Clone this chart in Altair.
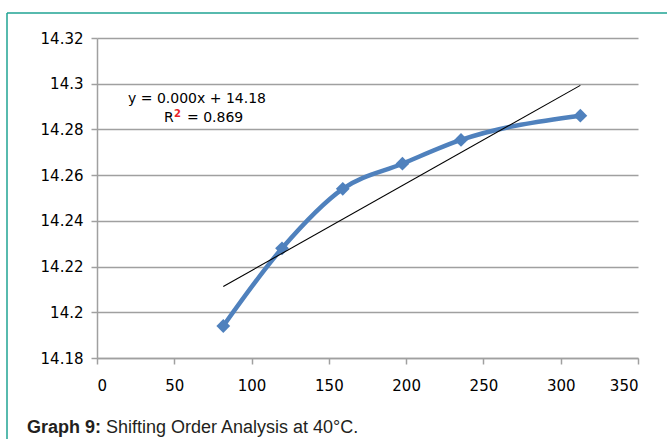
import altair as alt
import pandas as pd

# Data
x_vals = [81.7, 119.7, 159.0, 197.6, 235.5, 312.7]
y_vals = [14.194, 14.228, 14.254, 14.265, 14.2754, 14.286]
x_ticks = [0, 50, 100, 150, 200, 250, 300, 350]
y_ticks = [14.18, 14.20, 14.22, 14.24, 14.26, 14.28, 14.30, 14.32]
eq_line = "y = 0.000x + 14.18"
r2_label = ["R", "2", "= 0.869"]
caption_bold = "Graph 9:"
caption_rest = "Shifting Order Analysis at 40°C."

df = pd.DataFrame({"x": x_vals, "y": y_vals})

BLUE = "#4F81BD"
GRID = "#A0A0A0"
TEAL = "#1FA393"
FONT = "DejaVu Sans"

xs = alt.Scale(domain=[0, 350], nice=False, zero=False)
ys = alt.Scale(domain=[14.18, 14.32], nice=False, zero=False)

x_enc = alt.X("x:Q", scale=xs, axis=alt.Axis(values=x_ticks, title=None, grid=False,
                                             tickSize=6, labelPadding=14, domainColor=GRID,
                                             tickColor=GRID, domainWidth=1.5, tickWidth=1.5))
y_enc = alt.Y("y:Q", scale=ys, axis=alt.Axis(values=y_ticks, title=None, grid=True,
                                             format=".2~f", gridColor=GRID, gridWidth=1.5,
                                             tickSize=6, labelPadding=8, domainColor=GRID,
                                             tickColor=GRID, domainWidth=1.5, tickWidth=1.5))

base = alt.Chart(df)

curve = base.mark_line(interpolate="monotone", color=BLUE, strokeWidth=4.5).encode(x=x_enc, y=y_enc)
points = base.mark_point(shape="diamond", filled=True, size=190, color=BLUE, opacity=1).encode(x="x:Q", y="y:Q")
trend = base.transform_regression("x", "y").mark_line(color="black", strokeWidth=1.1).encode(x="x:Q", y="y:Q")

one = pd.DataFrame({"a": [0]})

eq = alt.Chart(one).mark_text(align="left", baseline="middle", font=FONT, fontSize=14, color="black").encode(
    text=alt.value(eq_line), x=alt.value(31), y=alt.value(61))
r_txt = alt.Chart(one).mark_text(align="left", baseline="middle", font=FONT, fontSize=14, color="black").encode(
    text=alt.value(r2_label[0]), x=alt.value(67), y=alt.value(80))
r_sup = alt.Chart(one).mark_text(align="left", baseline="middle", font=FONT, fontSize=10, fontWeight="bold",
                                 color="#E8242A").encode(
    text=alt.value(r2_label[1]), x=alt.value(77), y=alt.value(76))
r_val = alt.Chart(one).mark_text(align="left", baseline="middle", font=FONT, fontSize=14, color="black").encode(
    text=alt.value(r2_label[2]), x=alt.value(90), y=alt.value(80))

cap1 = alt.Chart(one).mark_text(align="left", baseline="alphabetic", font="Liberation Sans", fontSize=18,
                                fontWeight="bold", color="#231F20").encode(
    text=alt.value(caption_bold), x=alt.value(-70), y=alt.value(395))
cap2 = alt.Chart(one).mark_text(align="left", baseline="alphabetic", font="Liberation Sans", fontSize=18,
                                color="#231F20").encode(
    text=alt.value(caption_rest), x=alt.value(9), y=alt.value(395))

border_left = alt.Chart(one).mark_rule(color=TEAL, strokeWidth=1.5).encode(
    x=alt.value(-90), y=alt.value(-25), y2=alt.value(420))
border_top = alt.Chart(one).mark_rule(color=TEAL, strokeWidth=1.5).encode(
    x=alt.value(-90), x2=alt.value(580), y=alt.value(-25))

chart = alt.layer(
    curve, points, trend, eq, r_txt, r_sup, r_val, cap1, cap2, border_left, border_top
).properties(
    width=541, height=320,
    autosize=alt.AutoSizeParams(type="none"),
    padding={"left": 97, "top": 38, "right": 29, "bottom": 81},
    background="white",
).configure_view(stroke=None).configure_axis(
    labelFont=FONT, labelFontSize=15, labelColor="black"
)

chart.save("out.html", embed_options={"renderer": "svg", "actions": False})
